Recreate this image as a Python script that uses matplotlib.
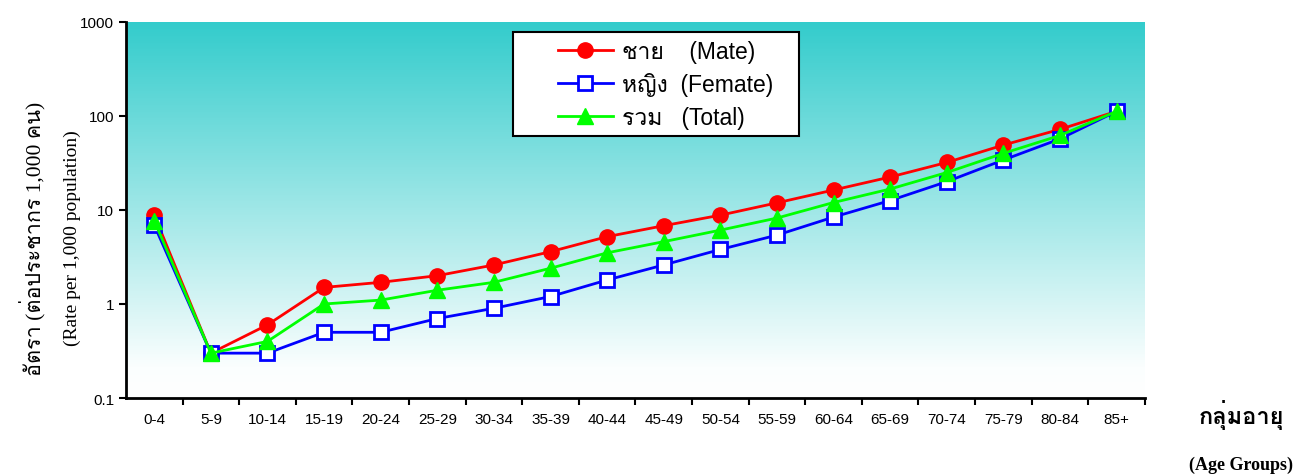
import numpy as np
import matplotlib
matplotlib.use("Agg")
import matplotlib.pyplot as plt
from matplotlib import font_manager
from matplotlib.ft2font import FT2Font
from matplotlib.colors import LinearSegmentedColormap
from matplotlib.patches import Rectangle

age_groups = ["0-4", "5-9", "10-14", "15-19", "20-24", "25-29", "30-34", "35-39", "40-44",
              "45-49", "50-54", "55-59", "60-64", "65-69", "70-74", "75-79", "80-84", "85+"]
male = [8.8, 0.3, 0.6, 1.5, 1.7, 2.0, 2.6, 3.6, 5.2, 6.8, 8.8, 11.9, 16.3, 22.4, 32, 49, 72, 112]
female = [6.9, 0.3, 0.3, 0.5, 0.5, 0.7, 0.9, 1.2, 1.8, 2.6, 3.8, 5.4, 8.4, 12.6, 20, 34, 57, 112]
total = [7.7, 0.3, 0.4, 1.0, 1.1, 1.4, 1.7, 2.4, 3.5, 4.6, 6.1, 8.2, 12.0, 16.7, 25, 40, 62, 112]
series_labels = ["ชาย    (Mate)", "หญิง  (Femate)", "รวม   (Total)"]
yticks = [0.1, 1, 10, 100, 1000]


def thai_font():
    # find any installed font that has Thai glyphs
    for f in font_manager.fontManager.ttflist:
        try:
            if ord("ก") in FT2Font(f.fname).get_charmap():
                return f.name
        except Exception:
            pass
    return None


th = thai_font()
sans = ["Liberation Sans"] + ([th] if th else []) + ["DejaVu Sans"]
serif = ["Liberation Serif"] + ([th] if th else []) + ["DejaVu Serif"]

fig = plt.figure(figsize=(13.16, 4.77), dpi=100)
ax = fig.add_axes([0.0957, 0.1635, 0.7743, 0.7885])

cmap = LinearSegmentedColormap.from_list("bg", [(0, "#ffffff"), (0.08, "#fbfefe"), (1, "#33cccc")])
grad = np.linspace(0, 1, 256).reshape(-1, 1)
ax.imshow(grad, cmap=cmap, origin="lower", aspect="auto", extent=[0, 1, 0, 1],
          transform=ax.transAxes, zorder=0)

x = np.arange(len(age_groups))
ax.plot(x, male, color="#ff0000", lw=2, marker="o", ms=11, mec="#ff0000", mfc="#ff0000",
        label=series_labels[0], zorder=3)
ax.plot(x, female, color="#0000ff", lw=2, marker="s", ms=10, mec="#0000ff", mfc="white",
        mew=2, label=series_labels[1], zorder=3)
ax.plot(x, total, color="#00ff00", lw=2, marker="^", ms=11, mec="#00ff00", mfc="#00ff00",
        label=series_labels[2], zorder=4)

ax.set_yscale("log")
ax.set_ylim(0.1, 1000)
ax.set_yticks(yticks)
ax.set_yticklabels(["0.1", "1", "10", "100", "1000"], family=sans, fontsize=11)
ax.yaxis.set_minor_locator(matplotlib.ticker.NullLocator())
ax.set_xlim(-0.5, len(age_groups) - 0.5)
ax.set_xticks(x)
ax.set_xticklabels(age_groups, family=sans, fontsize=11)
ax.tick_params(axis="x", length=0, pad=10)
ax.set_xticks(np.arange(len(age_groups)) + 0.5, minor=True)
ax.tick_params(axis="x", which="minor", length=5, width=1.5)
ax.tick_params(axis="y", length=5, width=1.5)
for s in ["top", "right"]:
    ax.spines[s].set_visible(False)
for s in ["left", "bottom"]:
    ax.spines[s].set_linewidth(2)

# legend box drawn separately so the padding can be uneven like the original
ax.add_patch(Rectangle((0.380, 0.697), 0.281, 0.276, transform=ax.transAxes, facecolor="white",
                       edgecolor="black", lw=1.5, zorder=5))
leg = ax.legend(loc="upper left", bbox_to_anchor=(0.424, 0.953), frameon=False,
                handlelength=2.4, borderpad=0, labelspacing=0.42, handletextpad=0.4,
                borderaxespad=0, prop={"family": sans, "size": 16.5})
leg.set_zorder(6)

fig.text(0.025, 0.5, "อัตรา (ต่อประชากร 1,000 คน)", rotation=90, va="center", ha="center",
         family=serif, fontsize=15.5)
fig.text(0.055, 0.5, "(Rate per 1,000 population)", rotation=90, va="center", ha="center",
         family=serif, fontsize=14)
fig.text(0.943, 0.13, "กลุ่มอายุ", ha="center", va="center", family=serif, fontsize=17,
         fontweight="bold")
fig.text(0.943, 0.025, "(Age Groups)", ha="center", va="center", family=serif, fontsize=13,
         fontweight="bold")

fig.savefig("out.png", dpi=100)
